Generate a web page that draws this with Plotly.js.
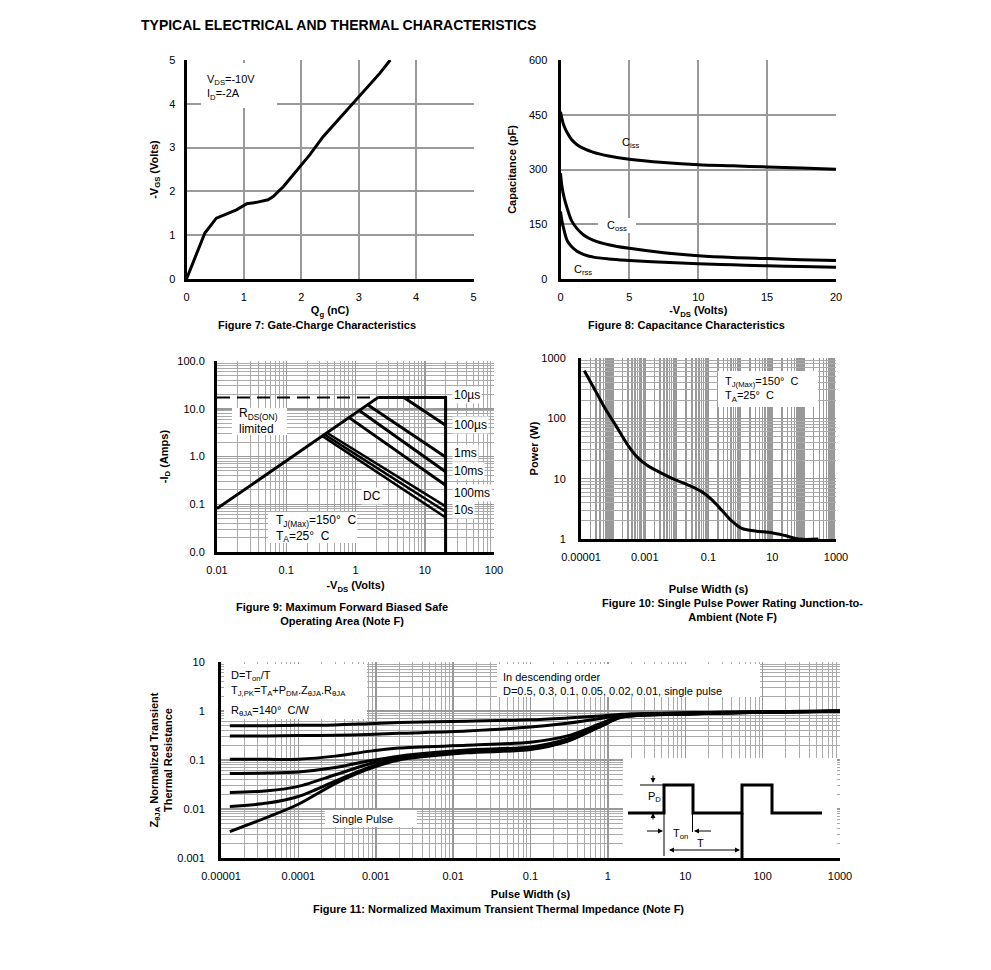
<!DOCTYPE html>
<html><head><meta charset="utf-8">
<script src="https://cdn.plot.ly/plotly-3.0.1.min.js"></script>
<style>html,body{margin:0;padding:0;background:#fff}#chart{width:991px;height:970px}</style>
</head><body><div id="chart"></div>
<script>
// ---------- Figure 7: gate charge ----------
const gateQg  = [0, 0.1, 0.2, 0.32, 0.42, 0.52, 0.67, 0.87, 1.05, 1.22, 1.42, 1.51, 1.69, 1.98, 2.15, 2.38, 2.67, 2.99, 3.37, 3.55];
const gateVgs = [0, 0.33, 0.68, 1.05, 1.22, 1.39, 1.47, 1.58, 1.72, 1.75, 1.81, 1.88, 2.11, 2.57, 2.84, 3.25, 3.67, 4.13, 4.70, 5.0];

// ---------- Figure 8: capacitance ----------
const capVds  = [0, 0.1, 0.25, 0.5, 0.8, 1.2, 1.7, 2.4, 3.5, 5, 7.5, 10, 12.5, 15, 17.5, 20];
const capCiss = [458, 440, 420, 400, 382, 368, 357, 347, 337, 328, 319, 313, 310, 307, 304, 301];
const capCoss = [290, 255, 225, 192, 160, 138, 120, 106, 94, 84, 72, 64, 59, 56, 53, 51];
const capCrss = [185, 160, 135, 104, 89, 76, 67, 60, 55, 51, 46, 42, 39, 36, 34, 32];

// ---------- Figure 9: safe operating area ----------
const soaRdsV = [0.01, 2.13],  soaRdsI = [0.081, 17.3];
const soaDashV = [0.01, 2.13], soaDashI = [17.3, 17.3];
const soa10usV = [2.13, 20, 20], soa10usI = [17.3, 17.3, 0.01];
const soa100usV = [5.0, 20],   soa100usI = [17.3, 4.5];
const soa1msV = [1.48, 20],    soa1msI = [12.3, 0.98];
const soa10msV = [1.12, 20],   soa10msI = [9.3, 0.48];
const soa100msV = [0.80, 20],  soa100msI = [6.6, 0.25];
const soa1sV = [0.385, 20],    soa1sI = [3.15, 0.09];
const soa10sV = [0.355, 20],   soa10sI = [2.9, 0.07];
const soaDcV = [0.33, 20],     soaDcI = [2.7, 0.053];

// ---------- Figure 10: single pulse power ----------
const spTime  = [1.27e-5, 2.75e-5, 5.66e-5, 1.3e-4, 2.7e-4, 5.6e-4, 1.15e-3, 2.7e-3, 8.9e-3, 0.0233, 0.061, 0.126, 0.26, 0.53, 1.1, 2.9, 9.6, 25, 66, 280];
const spPower = [616, 295, 147, 72.8, 38.6, 23.2, 16.9, 13.1, 9.6, 7.85, 6.1, 4.5, 3.0, 2.0, 1.5, 1.36, 1.27, 1.14, 1.0, 1.0];

// ---------- Figure 11: transient thermal impedance ----------
const ztTime = [1.3e-5, 4e-5, 1e-4, 3e-4, 8e-4, 2e-3, 0.015, 0.1, 0.3, 0.8, 1.5, 10, 100, 1000];
const ztD050 = [0.50, 0.50, 0.51, 0.52, 0.55, 0.58, 0.62, 0.66, 0.72, 0.79, 0.86, 0.92, 0.96, 1.0];
const ztD030 = [0.31, 0.31, 0.315, 0.32, 0.33, 0.35, 0.39, 0.47, 0.56, 0.70, 0.83, 0.91, 0.96, 1.0];
const ztD010 = [0.103, 0.103, 0.104, 0.12, 0.15, 0.175, 0.20, 0.23, 0.31, 0.55, 0.79, 0.89, 0.95, 0.99];
const ztD005 = [0.053, 0.054, 0.057, 0.07, 0.095, 0.12, 0.16, 0.185, 0.27, 0.52, 0.77, 0.88, 0.95, 0.99];
const ztD002 = [0.0216, 0.0235, 0.029, 0.05, 0.082, 0.112, 0.148, 0.173, 0.25, 0.50, 0.76, 0.87, 0.94, 0.99];
const ztD001 = [0.0112, 0.0132, 0.018, 0.037, 0.07, 0.105, 0.145, 0.168, 0.245, 0.49, 0.75, 0.87, 0.94, 0.99];
const ztSingle = [0.00345, 0.0068, 0.0125, 0.033, 0.065, 0.1, 0.14, 0.163, 0.24, 0.48, 0.74, 0.86, 0.94, 0.99];

// ---------- tick labels ----------
const soaTickVals = [0.01, 0.1, 1, 10, 100];
const soaXText = ['0.01', '0.1', '1', '10', '100'];
const soaYText = ['0.0', '0.1', '1.0', '10.0', '100.0'];
const decadeVals = [1e-5, 1e-4, 1e-3, 1e-2, 1e-1, 1, 10, 100, 1000];
const decadeText = ['0.00001', '0.0001', '0.001', '0.01', '0.1', '1', '10', '100', '1000'];
const spXVals = [1e-5, 1e-3, 1e-1, 10, 1000];
const spXText = ['0.00001', '0.001', '0.1', '10', '1000'];
const spYVals = [1, 10, 100, 1000];
const spYText = ['1', '10', '100', '1000'];
const ztYVals = [0.001, 0.01, 0.1, 1, 10];
const ztYText = ['0.001', '0.01', '0.1', '1', '10'];

// ---------- inset pulse diagram (schematic units) ----------
const pulseX = [5, 41, 41, 70, 70, 119, 119, 149, 149, 199];
const pulseY = [45, 45, 73, 73, 45, 45, 73, 73, 45, 45];
const insetBoxX = [0, 214, 214, 0, 0];
const insetBoxY = [9, 9, 100, 100, 9];

// ---------- layout helpers ----------
const W = 991, H = 970;
const FONT = 'Arial, "Liberation Sans", Helvetica, sans-serif';
const domX = (a, b) => [a / W, b / W];
const domY = (top, bot) => [1 - bot / H, 1 - top / H];
const px = v => v / W, py = v => 1 - v / H;
const tickFont = {family: FONT, size: 11, color: '#000'};
const titleFont = {family: FONT, size: 11, color: '#000', weight: 'bold'};

function axis(extra) {
  return Object.assign({
    showline: true, linecolor: '#000', linewidth: 3, mirror: false,
    ticks: '', showgrid: true, gridcolor: '#9a9a9a', gridwidth: 2,
    zeroline: false, tickfont: tickFont, fixedrange: true
  }, extra);
}
function logAxis(extra, minorColor, minorWidth) {
  return axis(Object.assign({
    type: 'log', gridwidth: 1.5, gridcolor: '#999',
    minor: {showgrid: true, gridcolor: minorColor || '#aaa', gridwidth: minorWidth || 1, dtick: 'D1', ticks: ''}
  }, extra));
}
const blk = (w) => ({color: '#000', width: w || 3});

const traces = [];
// Fig 7
traces.push({x: gateQg, y: gateVgs, xaxis: 'x', yaxis: 'y', mode: 'lines', line: blk(3), name: '-VGS'});
// Fig 8
[[capCiss, 'Ciss'], [capCoss, 'Coss'], [capCrss, 'Crss']].forEach(([c, n]) =>
  traces.push({x: capVds, y: c, xaxis: 'x2', yaxis: 'y2', mode: 'lines', line: Object.assign(blk(3), {shape: 'spline'}), name: n}));
// Fig 9
traces.push({x: soaDashV, y: soaDashI, xaxis: 'x3', yaxis: 'y3', mode: 'lines', line: {color: '#000', width: 2, dash: '13px,7px'}, name: 'limit'});
[[soaRdsV, soaRdsI, 'RDS(ON)', 3], [soa10usV, soa10usI, '10us', 3], [soa100usV, soa100usI, '100us', 3], [soa1msV, soa1msI, '1ms', 3],
 [soa10msV, soa10msI, '10ms', 3], [soa100msV, soa100msI, '100ms', 3], [soa1sV, soa1sI, '1s', 2.5], [soa10sV, soa10sI, '10s', 2.5], [soaDcV, soaDcI, 'DC', 2.5]]
  .forEach(([v, i, n, w]) => traces.push({x: v, y: i, xaxis: 'x3', yaxis: 'y3', mode: 'lines', line: blk(w), name: n}));
// Fig 10
traces.push({x: spTime, y: spPower, xaxis: 'x4', yaxis: 'y4', mode: 'lines', line: Object.assign(blk(3), {shape: 'spline', smoothing: 1}), name: 'Power'});
// Fig 11
[[ztD050, 'D=0.5'], [ztD030, 'D=0.3'], [ztD010, 'D=0.1'], [ztD005, 'D=0.05'], [ztD002, 'D=0.02'], [ztD001, 'D=0.01'], [ztSingle, 'Single pulse']]
  .forEach(([z, n]) => traces.push({x: ztTime, y: z, xaxis: 'x5', yaxis: 'y5', mode: 'lines', line: Object.assign(blk(3), {shape: 'spline', smoothing: 0.8}), name: n}));
// Inset diagram
traces.push({x: insetBoxX, y: insetBoxY, xaxis: 'x6', yaxis: 'y6', mode: 'lines', fill: 'toself', fillcolor: '#fff', line: {width: 0, color: '#fff'}, name: 'box'});
traces.push({x: pulseX, y: pulseY, xaxis: 'x6', yaxis: 'y6', mode: 'lines', line: blk(3), name: 'pulse'});
traces.push({x: [119, 119], y: [45, 0], xaxis: 'x6', yaxis: 'y6', mode: 'lines', line: blk(3), name: 'period'});
traces.push({x: [17, 41], y: [73, 73], xaxis: 'x6', yaxis: 'y6', mode: 'lines', line: blk(1), name: 'ref'});
traces.push({x: [41, 41], y: [45, 2], xaxis: 'x6', yaxis: 'y6', mode: 'lines', line: blk(1), name: 'ref2'});
traces.push({x: [69.5, 69.5], y: [45, 26], xaxis: 'x6', yaxis: 'y6', mode: 'lines', line: blk(1), name: 'ref3'});

// white boxes (paper coords, above grid)
function box(x0, y0, x1, y1) {
  return {type: 'rect', xref: 'paper', yref: 'paper', x0: px(x0), x1: px(x1), y0: py(y1), y1: py(y0),
          fillcolor: '#fff', line: {width: 0}, layer: 'above'};
}
const shapes = [
  box(201, 63, 277, 108),
  box(598, 218, 636, 233),
  box(232, 408, 287, 435),
  box(268, 512, 357, 543),
  box(718, 371, 818, 407),
  box(224, 664, 367, 719),
  box(497, 664, 760, 697),
  box(325, 810, 417, 827)
];

function ann(text, x, y, o) {
  return Object.assign({text: text, x: px(x), y: py(y), xref: 'paper', yref: 'paper', showarrow: false,
    font: {family: FONT, size: 11, color: '#000'}, xanchor: 'left', yanchor: 'middle', align: 'left'}, o || {});
}
const capt = (t, x, y) => ann(t, x, y, {xanchor: 'center', align: 'center', font: titleFont});
const lab = (t, x, y) => ann(t, x, y, {bgcolor: '#fff', borderpad: 1, font: {family: FONT, size: 12, color: '#000'}});
function arrow(x, y, ax, ay, two) {
  return {x: x, y: y, ax: ax, ay: ay, xref: 'x6', yref: 'y6', axref: 'x6', ayref: 'y6', text: ' ', showarrow: true,
    arrowhead: 2, arrowsize: 1, arrowwidth: 1, arrowcolor: '#000', arrowside: two ? 'end+start' : 'end', startarrowhead: 2};
}
const insetFont = {family: FONT, size: 11, color: '#000'};
const annotations = [
  capt('Figure 7: Gate-Charge Characteristics', 317, 325),
  capt('Figure 8: Capacitance Characteristics', 686, 325),
  capt('Figure 9: Maximum Forward Biased Safe<br>Operating Area (Note F)', 342, 614),
  capt('Figure 10: Single Pulse Power Rating Junction-to-<br>Ambient (Note F)', 732, 609.5),
  capt('Figure 11: Normalized Maximum Transient Thermal Impedance (Note F)', 498, 909),
  ann('V<sub>DS</sub>=-10V<br>I<sub>D</sub>=-2A', 205, 87),
  ann('C<sub>iss</sub>', 631, 143, {xanchor: 'center'}),
  ann('C<sub>oss</sub>', 617, 226, {xanchor: 'center'}),
  ann('C<sub>rss</sub>', 583, 270, {xanchor: 'center'}),
  ann('R<sub>DS(ON)</sub><br>limited', 237, 421, {font: {family: FONT, size: 12, color: '#000'}}),
  ann('T<sub>J(Max)</sub>=150°  C<br>T<sub>A</sub>=25°  C', 274, 528, {font: {family: FONT, size: 12, color: '#000'}}),
  lab('10µs', 452, 395), lab('100µs', 452, 425), lab('1ms', 452, 453),
  lab('10ms', 452, 471), lab('100ms', 452, 493), lab('10s', 452, 510),
  lab('DC', 361, 496),
  ann('T<sub>J(Max)</sub>=150°  C<br>T<sub>A</sub>=25°  C', 723, 389),
  ann('D=T<sub>on</sub>/T', 229, 676),
  ann('T<sub>J,PK</sub>=T<sub>A</sub>+P<sub>DM</sub>.Z<sub>θJA</sub>.R<sub>θJA</sub>', 229, 691),
  ann('R<sub>θJA</sub>=140°  C/W', 229, 711),
  ann('In descending order<br>D=0.5, 0.3, 0.1, 0.05, 0.02, 0.01, single pulse', 501, 683.5),
  ann('Single Pulse', 330, 819),
  // inset labels
  {text: 'P<sub>D</sub>', x: 31, y: 61, xref: 'x6', yref: 'y6', showarrow: false, font: insetFont},
  {text: 'T<sub>on</sub>', x: 57, y: 24, xref: 'x6', yref: 'y6', showarrow: false, font: insetFont},
  {text: 'T', x: 77, y: 15, xref: 'x6', yref: 'y6', showarrow: false, font: insetFont},
  arrow(30, 75, 30, 90), arrow(30, 45, 30, 31), arrow(40, 27, 21, 27), arrow(71, 27, 91, 27),
  arrow(117, 8, 43, 8, true)
];

const layout = {
  width: W, height: H, margin: {l: 0, r: 0, t: 0, b: 0}, showlegend: false,
  paper_bgcolor: '#fff', plot_bgcolor: '#fff', font: {family: FONT, size: 11, color: '#000'},
  title: {text: 'TYPICAL ELECTRICAL AND THERMAL CHARACTERISTICS', x: 141 / W, xanchor: 'left', xref: 'container',
          y: 1 - 25 / H, yanchor: 'middle', yref: 'container', font: {family: FONT, size: 14, color: '#000', weight: 'bold'}},
  xaxis: axis({domain: domX(186.5, 473.5), range: [0, 5], dtick: 1, anchor: 'y', ticklabelstandoff: 6,
               title: {text: 'Q<sub>g</sub> (nC)', font: titleFont, standoff: 5}}),
  yaxis: axis({domain: domY(60, 279), range: [0, 5], dtick: 1, anchor: 'x', ticklabelstandoff: 6,
               title: {text: '-V<sub>GS</sub> (Volts)', font: titleFont, standoff: 9}}),
  xaxis2: axis({domain: domX(560.5, 836), range: [0, 20], dtick: 5, anchor: 'y2', ticklabelstandoff: 6,
               title: {text: '-V<sub>DS</sub> (Volts)', font: titleFont, standoff: 5}}),
  yaxis2: axis({domain: domY(60, 279), range: [0, 600], dtick: 150, anchor: 'x2', ticklabelstandoff: 8,
               title: {text: 'Capacitance (pF)', font: titleFont, standoff: 11}}),
  xaxis3: logAxis({domain: domX(217, 494), range: [-2, 2], tickvals: soaTickVals, ticktext: soaXText, anchor: 'y3', ticklabelstandoff: 6,
               title: {text: '-V<sub>DS</sub> (Volts)', font: titleFont, standoff: 7}}),
  yaxis3: logAxis({domain: domY(361, 552), range: [-2, 2], tickvals: soaTickVals, ticktext: soaYText, anchor: 'x3', ticklabelstandoff: 7,
               title: {text: '-I<sub>D</sub> (Amps)', font: titleFont, standoff: 7}}),
  xaxis4: logAxis({domain: domX(581, 836), range: [-5, 3], tickvals: spXVals, ticktext: spXText, anchor: 'y4', ticklabelstandoff: 6,
               title: {text: 'Pulse Width (s)', font: titleFont, standoff: 24}}, '#999', 1.5),
  yaxis4: logAxis({domain: domY(358, 539), range: [0, 3], tickvals: spYVals, ticktext: spYText, anchor: 'x4', ticklabelstandoff: 10,
               title: {text: 'Power (W)', font: titleFont, standoff: 1}}),
  xaxis5: logAxis({domain: domX(221, 840), range: [-5, 3], tickvals: decadeVals, ticktext: decadeText, anchor: 'y5', ticklabelstandoff: 6,
               title: {text: 'Pulse Width (s)', font: titleFont, standoff: 10}}),
  yaxis5: logAxis({domain: domY(662, 858), range: [-3, 1], tickvals: ztYVals, ticktext: ztYText, anchor: 'x5', ticklabelstandoff: 11,
               title: {text: 'Z<sub>θJA</sub> Normalized Transient<br>Thermal Resistance', font: titleFont, standoff: 3}}),
  xaxis6: {domain: domX(623, 837), range: [0, 214], visible: false, anchor: 'y6', fixedrange: true},
  yaxis6: {domain: domY(758, 858), range: [0, 100], visible: false, anchor: 'x6', fixedrange: true},
  shapes: shapes,
  annotations: annotations
};

Plotly.newPlot('chart', traces, layout, {displayModeBar: false, staticPlot: true});
</script></body></html>
